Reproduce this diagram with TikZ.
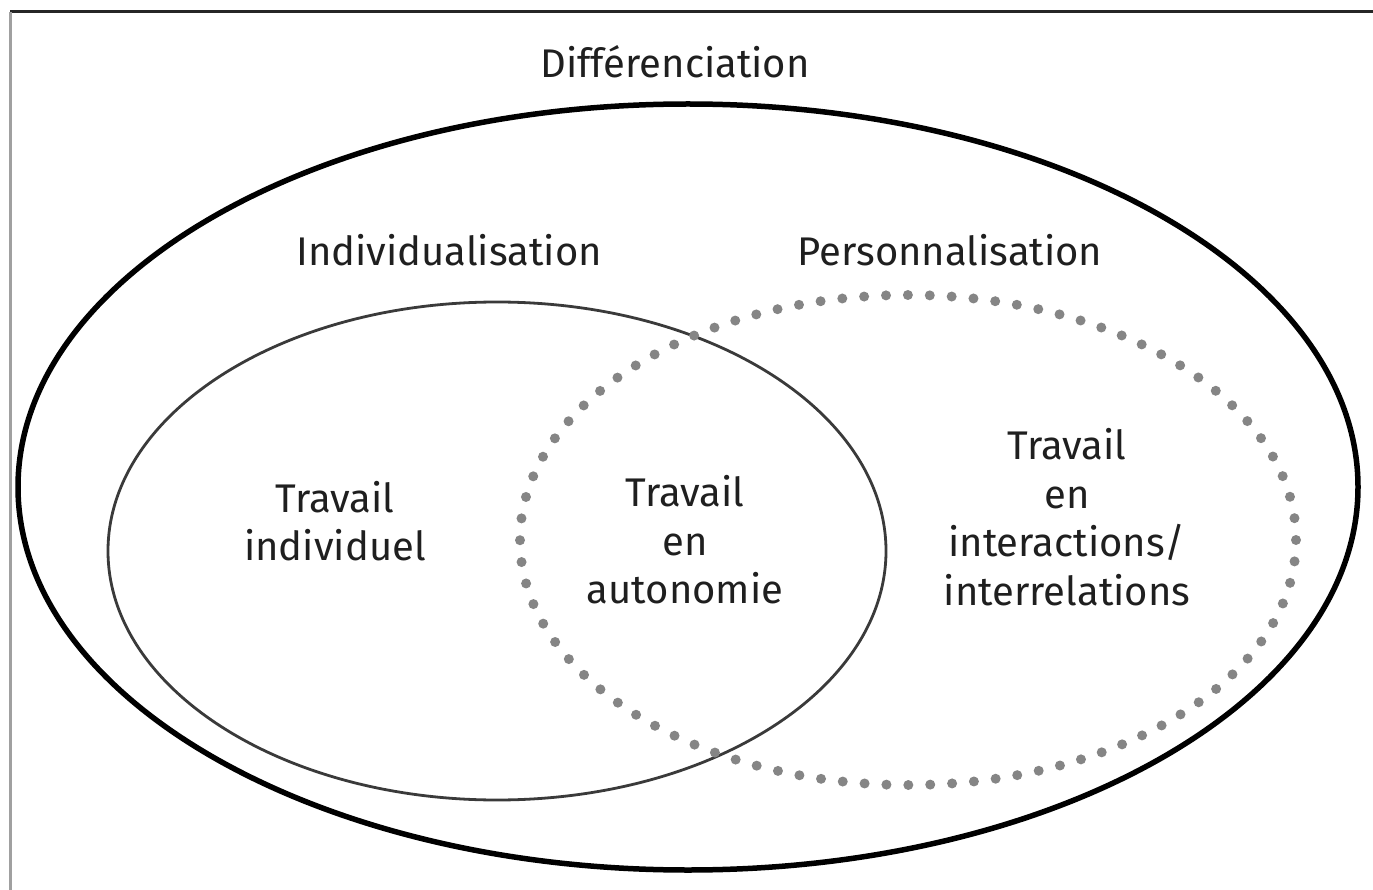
\documentclass[tikz,border=0pt]{standalone}
\usepackage{fontspec}
\setmainfont{Fira Sans}
\usetikzlibrary{shapes.geometric}
\definecolor{dotgray}{HTML}{858585}
\definecolor{linegray}{HTML}{3A3A3A}
\definecolor{framegray}{HTML}{A0A0A0}
\tikzset{
  lbl/.style={font=\fontsize{40}{48.5}\selectfont, align=center, inner sep=0pt, text=black!88},
  outerell/.style={ellipse, draw=black, line width=5.5pt, inner sep=0pt},
  indell/.style={ellipse, draw=linegray, line width=2.8pt, inner sep=0pt},
  dotell/.style={ellipse, draw=dotgray, line width=10pt, line cap=round, dash pattern=on 0pt off 21.9pt, inner sep=0pt},
}
\begin{document}
\begin{tikzpicture}[x=1pt,y=-1pt]
\useasboundingbox (0,0) rectangle (1373,890);
\coordinate (ftl) at (10,12);
\coordinate (ftr) at (1373,12);
\coordinate (fbl) at (10,890);
\draw[line width=3pt, black!85] (ftl) -- (ftr);
\draw[line width=3pt, framegray] (ftl) -- (fbl);
\node[outerell, minimum width=1340pt, minimum height=766pt] (diff) at (688,487) {};
\node[indell, minimum width=778pt, minimum height=498pt] (ind) at (497,551) {};
\node[dotell, minimum width=776pt, minimum height=490pt] (pers) at (908,540) {};
\node[lbl] (tdiff) at (675,62) {Différenciation};
\node[lbl] (tind) at (449,250) {Individualisation};
\node[lbl] (tpers) at (950,250) {Personnalisation};
\node[lbl] (tti) at (335,521) {Travail\\individuel};
\node[lbl] (tta) at (685,540) {Travail\\en\\autonomie};
\node[lbl] (tte) at (1067,517) {Travail\\en\\interactions/\\interrelations};
\end{tikzpicture}
\end{document}
